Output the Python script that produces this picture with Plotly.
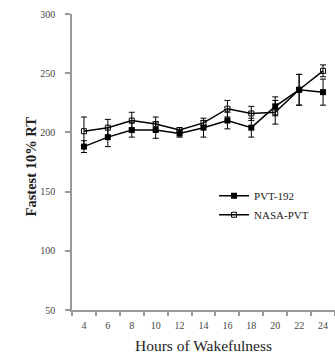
import plotly.graph_objects as go

hours = ["4", "6", "8", "10", "12", "14", "16", "18", "20", "22", "24"]
pvt192 = [188, 196, 202, 202, 199, 204, 210, 204, 222, 236, 234]
pvt192_err = [5, 8, 6, 7, 3, 8, 7, 8, 8, 13, 11]
nasa = [201, 204, 210, 207, 202, 208, 220, 216, 217, 236, 252]
nasa_err = [12, 7, 7, 6, 2, 2, 7, 6, 10, 13, 5]
y_ticks = [50, 100, 150, 200, 250, 300]

serif = "Liberation Serif"

fig = go.Figure()
fig.add_trace(go.Scatter(
    x=hours, y=pvt192, name="PVT-192", mode="lines+markers",
    line=dict(color="black", width=1.5),
    marker=dict(symbol="square", size=6, color="black"),
    error_y=dict(type="data", array=pvt192_err, color="black", thickness=1, width=3),
))
fig.add_trace(go.Scatter(
    x=hours, y=nasa, name="NASA-PVT", mode="lines+markers",
    line=dict(color="black", width=1.5),
    marker=dict(symbol="square-open", size=5, color="black", line=dict(width=1)),
    error_y=dict(type="data", array=nasa_err, color="black", thickness=1, width=3),
))

fig.update_layout(
    width=335, height=357,
    margin=dict(l=72, r=0, t=14, b=47),
    paper_bgcolor="white", plot_bgcolor="white",
    font=dict(family=serif, color="#444", size=10),
    showlegend=True,
    legend=dict(x=0.54, y=0.435, xanchor="left", yanchor="top",
                bgcolor="rgba(0,0,0,0)", font=dict(size=11, color="#222"),
                tracegroupgap=0, itemwidth=30),
    annotations=[dict(
        text="<b>Fastest 10% RT</b>", textangle=-90,
        xref="paper", yref="paper", x=-0.156, y=0.485,
        xanchor="center", yanchor="middle", showarrow=False,
        font=dict(family=serif, size=14.5, color="#222"),
    )],
)
fig.update_xaxes(
    type="category", showgrid=False, zeroline=False,
    showline=True, linecolor="#999", linewidth=1.5,
    ticks="outside", tickson="boundaries", ticklen=4, tickcolor="#999", tickwidth=1.5,
    ticklabelstandoff=5,
    range=[-0.5, 10.5],
    title=dict(text="Hours of Wakefulness", font=dict(size=15.5, color="#222"), standoff=10),
)
fig.update_yaxes(
    range=[50, 300], tickvals=y_ticks, showgrid=False, zeroline=False,
    showline=True, linecolor="#999", linewidth=1.5,
    ticks="outside", ticklen=5, tickcolor="#999", tickwidth=1.5,
    ticklabelstandoff=8,
)
fig.write_html("out.html")
